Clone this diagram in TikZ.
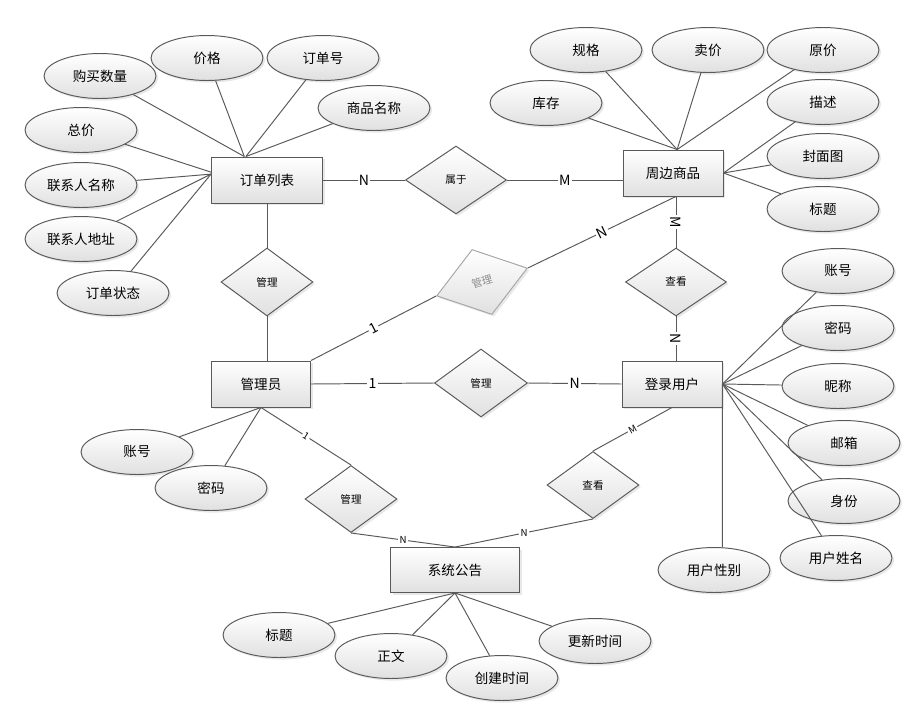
\documentclass[tikz,border=0pt]{standalone}
\usepackage{fontspec}
\setmainfont{Noto Sans CJK SC}
\usetikzlibrary{shapes.geometric,shadows}

\tikzset{
  base/.style={draw=black!65, line width=0.55pt, top color=white, bottom color=black!12,
    drop shadow={shadow xshift=1.2pt, shadow yshift=-1.2pt, opacity=0.18}},
  entity/.style={base, rectangle, minimum width=2cm, minimum height=0.92cm, inner sep=0pt,
    font=\fontsize{7.7}{8}\selectfont},
  attr/.style={base, ellipse, minimum width=2.24cm, minimum height=0.9cm, inner sep=0pt,
    font=\fontsize{7.7}{8}\selectfont},
  rel/.style={base, diamond, minimum width=1.84cm, minimum height=1.36cm, inner sep=0pt,
    font=\fontsize{6}{6}\selectfont},
  card/.style={fill=white, inner sep=0.8pt, font=\fontsize{8}{8}\selectfont},
  smallcard/.style={card, font=\fontsize{5.5}{5.5}\selectfont},
  link/.style={draw=black!65, line width=0.55pt},
}

\begin{document}
\begin{tikzpicture}[x=0.02cm, y=-0.02cm]
    \useasboundingbox (0,0) rectangle (920,717); % 画布大小

    % 实体
    \node (ol) at (267,180) [entity, minimum width=2.22cm] {订单列表};
    \node (sp) at (673,173) [entity] {周边商品};
    \node (ad) at (261,384) [entity, minimum width=1.98cm] {管理员};
    \node (lu) at (672,384) [entity] {登录用户};
    \node (sg) at (455,570) [entity, minimum width=2.58cm, minimum height=0.9cm] {系统公告};

    % 联系
    \node (be) at (456,180) [rel, minimum width=2.02cm] {属于};
    \node (m1) at (267,282) [rel] {管理};
    \node (ck1) at (676,282) [rel, minimum width=2.02cm] {查看};
    \node (m2) at (481,383) [rel, minimum width=1.86cm] {管理};
    \node (tm) at (482,282) [rel, rotate=17, draw=black!35, text=black!45, minimum width=1.9cm] {管理};
    \node (m3) at (351,499) [rel, minimum height=1.34cm] {管理};
    \node (ck2) at (593,485) [rel, minimum height=1.34cm] {查看};

    % 订单列表的属性
    \node (oa1) at (100,76) [attr] {购买数量};
    \node (oa2) at (207,58) [attr] {价格};
    \node (oa3) at (323,58) [attr] {订单号};
    \node (oa4) at (374,108) [attr] {商品名称};
    \node (oa5) at (81,130) [attr] {总价};
    \node (oa6) at (81,185) [attr] {联系人名称};
    \node (oa7) at (81,239) [attr] {联系人地址};
    \node (oa8) at (113,293) [attr] {订单状态};

    % 周边商品的属性
    \node (sa1) at (586,50) [attr] {规格};
    \node (sa2) at (708,50) [attr] {卖价};
    \node (sa3) at (823,50) [attr] {原价};
    \node (sa4) at (546,103) [attr] {库存};
    \node (sa5) at (823,102) [attr] {描述};
    \node (sa6) at (823,156) [attr] {封面图};
    \node (sa7) at (823,209) [attr] {标题};

    % 管理员的属性
    \node (aa1) at (137,452) [attr] {账号};
    \node (aa2) at (211,488) [attr] {密码};

    % 登录用户的属性
    \node (ua1) at (838,271) [attr] {账号};
    \node (ua2) at (838,328) [attr] {密码};
    \node (ua3) at (838,386) [attr] {昵称};
    \node (ua4) at (844,443) [attr] {邮箱};
    \node (ua5) at (844,501) [attr] {身份};
    \node (ua6) at (836,558) [attr] {用户姓名};
    \node (ua7) at (714,570) [attr] {用户性别};

    % 系统公告的属性
    \node (ga1) at (279,635) [attr] {标题};
    \node (ga2) at (391,656) [attr] {正文};
    \node (ga3) at (502,678) [attr] {创建时间};
    \node (ga4) at (595,641) [attr] {更新时间};

    % 属性连线
    \draw[link] (oa1) -- (ol.134);
    \draw[link] (oa2) -- (ol.134);
    \draw[link] (oa3) -- (ol.132);
    \draw[link] (oa4) -- (ol.132);
    \draw[link] (oa5) -- (ol.172);
    \draw[link] (oa6) -- (ol.174);
    \draw[link] (oa7) -- (ol.174);
    \draw[link] (oa8) -- (ol.174);

    \draw[link] (sa1) -- (sp.80);
    \draw[link] (sa2) -- (sp.80);
    \draw[link] (sa3) -- (sp.80);
    \draw[link] (sa4) -- (sp.80);
    \draw[link] (sa5) -- (sp.east);
    \draw[link] (sa6) -- (sp.east);
    \draw[link] (sa7) -- (sp.east);

    \draw[link] (aa1) -- (ad.south);
    \draw[link] (aa2) -- (ad.south);

    \draw[link] (ua1) -- (lu.east);
    \draw[link] (ua2) -- (lu.east);
    \draw[link] (ua3) -- (lu.east);
    \draw[link] (ua4) -- (lu.east);
    \draw[link] (ua5) -- (lu.east);
    \draw[link] (ua6) -- (lu.east);
    \draw[link] (lu.east) -- (ua7.70);

    \draw[link] (ga1) -- (sg.south);
    \draw[link] (ga2) -- (sg.south);
    \draw[link] (ga3) -- (sg.south);
    \draw[link] (ga4) -- (sg.south);

    % 联系连线
    \draw[link] (ol.east) -- node[card] {N} (be.west);
    \draw[link] (be.east) -- node[card] {M} (be.east -| sp.west);
    \draw[link] (ol.south) -- (m1.north);
    \draw[link] (m1.south) -- (m1.south |- ad.north);
    \draw[link] (ck1.north |- sp.south) -- node[card, sloped] {M} (ck1.north);
    \draw[link] (ck1.south) -- node[card, sloped] {N} (ck1.south |- lu.north);
    \draw[link] (ad.east) -- node[card] {1} (m2.west);
    \draw[link] (m2.east) -- node[card] {N} (lu.west);
    \draw[link] (ad.north east) -- node[card, sloped] {1} (tm.west);
    \draw[link] (tm.east) -- node[card, sloped] {N} (ck1.north |- sp.south);
    \draw[link] (ad.south) -- node[smallcard, sloped] {1} (m3.north);
    \draw[link] (m3.south) -- node[smallcard] {N} (sg.north);
    \draw[link] (lu.south) -- node[smallcard, sloped] {M} (ck2.north);
    \draw[link] (ck2.south) -- node[smallcard] {N} (sg.north);
\end{tikzpicture}
\end{document}
